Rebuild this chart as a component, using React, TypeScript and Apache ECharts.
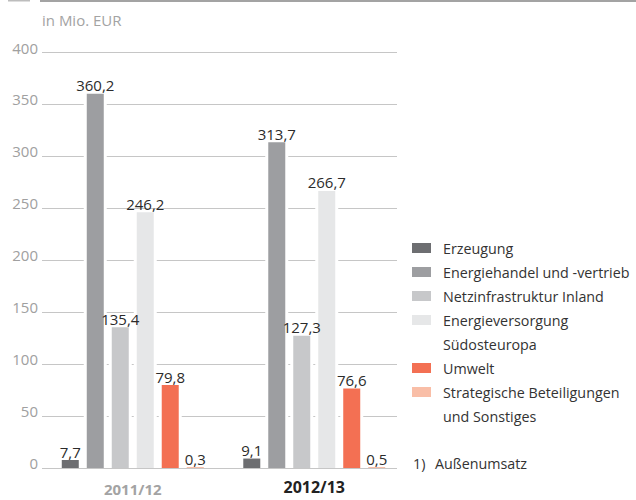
import React, { useEffect, useRef } from 'react';
import * as echarts from 'echarts';

const categories = ['2011/12', '2012/13'];
const seriesNames = [
  'Erzeugung',
  'Energiehandel und -vertrieb',
  'Netzinfrastruktur Inland',
  'Energieversorgung Südosteuropa',
  'Umwelt',
  'Strategische Beteiligungen und Sonstiges',
];
const legendLines = [
  ['Erzeugung'],
  ['Energiehandel und -vertrieb'],
  ['Netzinfrastruktur Inland'],
  ['Energieversorgung', 'Südosteuropa'],
  ['Umwelt'],
  ['Strategische Beteiligungen', 'und Sonstiges'],
];
const erzeugung = [7.7, 9.1];
const energiehandel = [360.2, 313.7];
const netzinfrastruktur = [135.4, 127.3];
const suedosteuropa = [246.2, 266.7];
const umwelt = [79.8, 76.6];
const strategisch = [0.3, 0.5];
const seriesValues = [erzeugung, energiehandel, netzinfrastruktur, suedosteuropa, umwelt, strategisch];
const colors = ['#6d6e71', '#9d9ea1', '#c7c8ca', '#e6e7e8', '#f37053', '#f9bea7'];
const yMin = 0;
const yMax = 400;
const yInterval = 50;
const unitLabel = 'in Mio. EUR';
const footnoteMark = '1)';
const footnoteText = 'Außenumsatz';

const FONT = "'Open Sans', 'Noto Sans', sans-serif";

export default function App() {
  const ref = useRef<HTMLDivElement>(null);

  useEffect(() => {
    document.body.style.margin = '0';
    if (!ref.current) return;
    const chart = echarts.init(ref.current, undefined, { renderer: 'svg' });

    const fmt = (v: number) => v.toFixed(1).replace('.', ',');

    const legendGraphics: any[] = [];
    let row = 0;
    legendLines.forEach((lines, i) => {
      const cy = 248 + row * 24;
      legendGraphics.push({
        type: 'rect',
        shape: { x: 412, y: cy - 5, width: 19, height: 10 },
        style: { fill: colors[i] },
      });
      lines.forEach((ln, j) => {
        legendGraphics.push({
          type: 'text',
          x: 443,
          y: cy + j * 24,
          style: {
            text: ln,
            fill: '#333333',
            font: `14.3px ${FONT}`,
            verticalAlign: 'middle',
          },
        });
      });
      row += lines.length;
    });

    // white halo bars behind the coloured bars (gaps in the grid lines)
    const haloSeries = seriesValues.map((vals, i) => ({
      type: 'bar',
      name: 'halo-' + i,
      xAxisIndex: 1,
      yAxisIndex: 0,
      data: vals,
      barWidth: 23,
      barGap: '8.7%',
      silent: true,
      z: 1,
      itemStyle: { color: '#ffffff' },
      label: { show: false },
    }));

    const barSeries = seriesValues.map((vals, i) => ({
      type: 'bar',
      name: seriesNames[i],
      xAxisIndex: 0,
      yAxisIndex: 0,
      data: vals,
      barWidth: 17,
      barGap: '47%',
      barMinHeight: 1,
      z: 3,
      itemStyle: { color: colors[i] },
      label: {
        show: true,
        position: 'top',
        distance: 1,
        formatter: (p: any) => fmt(p.value),
        color: '#2b2b2b',
        fontFamily: FONT,
        fontSize: 15,
      },
    }));

    const option: any = {
      animation: false,
      grid: [
        { left: 42, right: 231, top: 52.5, bottom: 32 },
        { left: 42, right: 239, top: 52.5, bottom: 32 },
      ],
      xAxis: [
        {
          type: 'category',
          gridIndex: 0,
          data: categories,
          axisLine: { show: false },
          axisTick: { show: false },
          axisLabel: {
            margin: 11,
            formatter: (v: string, idx: number) => (idx === 0 ? `{a|${v}}` : `{b|${v}}`),
            rich: {
              a: { fontFamily: FONT, fontSize: 15, lineHeight: 16, fontWeight: 'bold', color: '#a3a3a3', padding: [3, 0, 0, 0] },
              b: { fontFamily: FONT, fontSize: 16, lineHeight: 16, fontWeight: 'bold', color: '#222222' },
            },
          },
        },
        {
          type: 'category',
          gridIndex: 0,
          data: categories,
          show: false,
        },
        {
          type: 'category',
          gridIndex: 1,
          data: ['x'],
          show: false,
        },
      ],
      yAxis: [
        {
          type: 'value',
          gridIndex: 0,
          min: yMin,
          max: yMax,
          interval: yInterval,
          axisLine: { show: false },
          axisTick: { show: false },
          splitLine: { show: false },
          axisLabel: {
            margin: 4,
            color: '#a0a0a0',
            fontFamily: FONT,
            fontSize: 15,
            verticalAlign: 'bottom',
            lineHeight: 10,
          },
        },
        {
          type: 'value',
          gridIndex: 1,
          min: yMin,
          max: yMax,
          interval: yInterval,
          axisLine: { show: false },
          axisTick: { show: false },
          axisLabel: { show: false },
          splitLine: { show: true, lineStyle: { color: '#c6c6c6', width: 1.2 } },
        },
      ],
      series: [...haloSeries, ...barSeries],
      graphic: [
        { type: 'rect', shape: { x: 8, y: 0, width: 22, height: 1.5 }, style: { fill: '#bdbdbd' } },
        { type: 'rect', shape: { x: 40, y: 0, width: 596, height: 2 }, style: { fill: '#a3a3a3' } },
        {
          type: 'text',
          x: 42,
          y: 20,
          style: { text: unitLabel, fill: '#a3a3a3', font: `15px ${FONT}`, verticalAlign: 'middle' },
        },
        ...legendGraphics,
        {
          type: 'text',
          x: 413,
          y: 463,
          style: { text: footnoteMark, fill: '#333333', font: `14.3px ${FONT}`, verticalAlign: 'middle' },
        },
        {
          type: 'text',
          x: 435,
          y: 463,
          style: { text: footnoteText, fill: '#333333', font: `14.3px ${FONT}`, verticalAlign: 'middle' },
        },
      ],
    };

    chart.setOption(option);
    return () => chart.dispose();
  }, []);

  return <div ref={ref} style={{ width: 636, height: 500 }} />;
}
